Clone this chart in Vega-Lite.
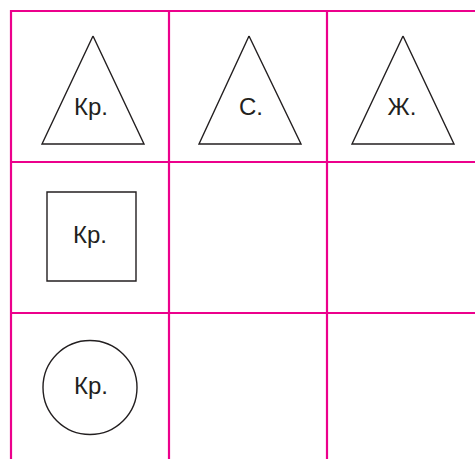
{
  "$schema": "https://vega.github.io/schema/vega-lite/v6.json",
  "width": 475,
  "height": 459,
  "padding": 0,
  "autosize": {"type": "none"},
  "background": "white",
  "config": {"view": {"stroke": null}},
  "layer": [
    {
      "data": {"values": [
        {"x": 11, "y": 11, "x2": 475, "y2": 11},
        {"x": 11, "y": 162, "x2": 475, "y2": 162},
        {"x": 11, "y": 313, "x2": 475, "y2": 313},
        {"x": 11, "y": 10, "x2": 11, "y2": 459},
        {"x": 169, "y": 10, "x2": 169, "y2": 459},
        {"x": 327, "y": 10, "x2": 327, "y2": 459}
      ]},
      "mark": {"type": "rule", "color": "#ec008c", "strokeWidth": 2.2},
      "encoding": {
        "x": {"field": "x", "type": "quantitative", "scale": {"domain": [0, 475], "nice": false, "zero": false}, "axis": null},
        "y": {"field": "y", "type": "quantitative", "scale": {"domain": [0, 459], "nice": false, "zero": false, "reverse": true}, "axis": null},
        "x2": {"field": "x2"},
        "y2": {"field": "y2"}
      }
    },
    {
      "data": {"values": [
        {"tri": "a", "ord": 0, "x": 93, "y": 36},
        {"tri": "a", "ord": 1, "x": 144, "y": 144},
        {"tri": "a", "ord": 2, "x": 42, "y": 144},
        {"tri": "a", "ord": 3, "x": 93, "y": 36},
        {"tri": "b", "ord": 0, "x": 249, "y": 36},
        {"tri": "b", "ord": 1, "x": 301, "y": 144},
        {"tri": "b", "ord": 2, "x": 199, "y": 144},
        {"tri": "b", "ord": 3, "x": 249, "y": 36},
        {"tri": "c", "ord": 0, "x": 403, "y": 36},
        {"tri": "c", "ord": 1, "x": 454, "y": 144},
        {"tri": "c", "ord": 2, "x": 352, "y": 144},
        {"tri": "c", "ord": 3, "x": 403, "y": 36}
      ]},
      "mark": {"type": "line", "color": "#231f20", "strokeWidth": 1.4, "strokeJoin": "miter"},
      "encoding": {
        "x": {"field": "x", "type": "quantitative", "scale": {"domain": [0, 475], "nice": false, "zero": false}, "axis": null},
        "y": {"field": "y", "type": "quantitative", "scale": {"domain": [0, 459], "nice": false, "zero": false, "reverse": true}, "axis": null},
        "detail": {"field": "tri"},
        "order": {"field": "ord", "type": "quantitative"}
      }
    },
    {
      "data": {"values": [{"x": 91.5, "y": 236.5}]},
      "mark": {"type": "point", "shape": "square", "size": 7921, "filled": false, "stroke": "#231f20", "strokeWidth": 1.4, "opacity": 1},
      "encoding": {
        "x": {"field": "x", "type": "quantitative", "scale": {"domain": [0, 475], "nice": false, "zero": false}, "axis": null},
        "y": {"field": "y", "type": "quantitative", "scale": {"domain": [0, 459], "nice": false, "zero": false, "reverse": true}, "axis": null}
      }
    },
    {
      "data": {"values": [{"x": 90, "y": 387.5}]},
      "mark": {"type": "point", "shape": "circle", "size": 8836, "filled": false, "stroke": "#231f20", "strokeWidth": 1.4, "opacity": 1},
      "encoding": {
        "x": {"field": "x", "type": "quantitative", "scale": {"domain": [0, 475], "nice": false, "zero": false}, "axis": null},
        "y": {"field": "y", "type": "quantitative", "scale": {"domain": [0, 459], "nice": false, "zero": false, "reverse": true}, "axis": null}
      }
    },
    {
      "data": {"values": [
        {"x": 91, "y": 115, "label": "Кр."},
        {"x": 251, "y": 115, "label": "С."},
        {"x": 402, "y": 115, "label": "Ж."},
        {"x": 90, "y": 243, "label": "Кр."},
        {"x": 91, "y": 394, "label": "Кр."}
      ]},
      "mark": {"type": "text", "font": "Liberation Sans", "fontSize": 24, "color": "#231f20", "align": "center", "baseline": "alphabetic"},
      "encoding": {
        "x": {"field": "x", "type": "quantitative", "scale": {"domain": [0, 475], "nice": false, "zero": false}, "axis": null},
        "y": {"field": "y", "type": "quantitative", "scale": {"domain": [0, 459], "nice": false, "zero": false, "reverse": true}, "axis": null},
        "text": {"field": "label"}
      }
    }
  ]
}
